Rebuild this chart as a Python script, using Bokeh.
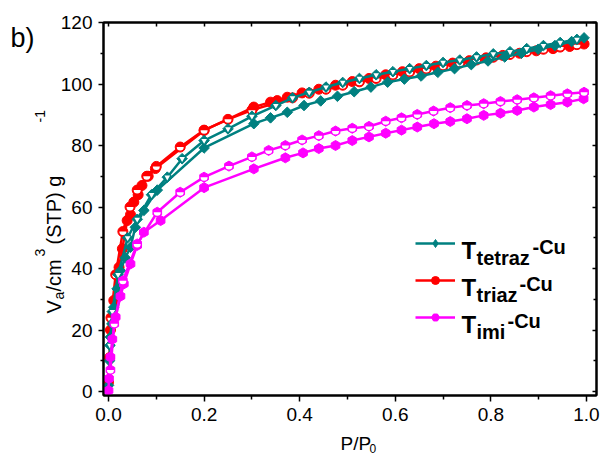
from math import pi
from bokeh.plotting import figure
from bokeh.models import (Range1d, LinearAxis, Legend, LegendItem,
                          FixedTicker, PrintfTickFormatter, CustomJSTickFormatter)
from bokeh.core.properties import value
from bokeh.embed import file_html
from bokeh.resources import INLINE

# ---------------- data ----------------
x_major = [0.0, 0.2, 0.4, 0.6, 0.8, 1.0]
x_minor = [0.1, 0.3, 0.5, 0.7, 0.9]
y_major = [0, 20, 40, 60, 80, 100, 120]
y_minor = [10, 30, 50, 70, 90, 110]

tetraz_ads_p = [0.0, 0.002, 0.004, 0.007, 0.011, 0.018, 0.025, 0.035, 0.046, 0.056, 0.074, 0.102,
                0.2, 0.304, 0.339, 0.374, 0.409, 0.444, 0.479, 0.514, 0.549, 0.584, 0.619, 0.654,
                0.689, 0.724, 0.759, 0.794, 0.829, 0.864, 0.899, 0.934, 0.969, 0.995]
tetraz_ads_v = [2, 10, 17.7, 22, 27.4, 33.4, 39.3, 43.5, 46.9, 53.4, 58.9, 65.5,
                79.2, 87.1, 89.0, 90.8, 93.0, 94.5, 96.0, 97.5, 99.0, 100.6, 101.6, 102.6,
                103.8, 105.0, 106.3, 107.5, 108.8, 110.0, 111.3, 112.5, 113.8, 115.0]
tetraz_des_p = [0.98, 0.945, 0.91, 0.875, 0.84, 0.805, 0.77, 0.735, 0.70, 0.665, 0.63, 0.595,
                0.56, 0.525, 0.49, 0.455, 0.42, 0.385, 0.35, 0.30, 0.25, 0.2, 0.154, 0.123,
                0.09, 0.06, 0.04, 0.02, 0.008, 0.003]
tetraz_des_v = [114.5, 113.5, 112.5, 111.5, 110.5, 109.8, 108.8, 107.8, 107.0, 106.0, 105.0, 104.0,
                103.0, 101.8, 100.5, 99.0, 97.3, 95.5, 93.0, 89.5, 85.4, 81.6, 75.7, 69.7,
                64.0, 56.0, 50.0, 38.0, 26.0, 15.0]

triaz_ads_p = [0.0, 0.002, 0.004, 0.011, 0.022, 0.029, 0.039, 0.046, 0.053, 0.062, 0.07, 0.083,
               0.098, 0.2, 0.304, 0.339, 0.353, 0.374, 0.405, 0.44, 0.475, 0.51, 0.545, 0.58,
               0.615, 0.65, 0.685, 0.72, 0.755, 0.79, 0.825, 0.86, 0.895, 0.93, 0.965, 0.995]
triaz_ads_v = [3, 11, 20, 29.6, 40.4, 46.4, 55.6, 57.5, 61.6, 64.0, 67.0, 70.0,
               72.5, 84.9, 92.5, 94.1, 94.6, 95.7, 97.1, 98.3, 99.6, 100.8, 101.8, 103.0,
               104.0, 105.0, 105.8, 106.8, 107.6, 108.5, 109.3, 110.0, 110.8, 111.5, 112.2, 113.0]
triaz_des_p = [0.98, 0.945, 0.91, 0.875, 0.84, 0.805, 0.77, 0.735, 0.70, 0.665, 0.63, 0.595,
               0.56, 0.525, 0.49, 0.455, 0.42, 0.385, 0.35, 0.30, 0.25, 0.2, 0.15, 0.1,
               0.08, 0.06, 0.045, 0.03, 0.015, 0.005]
triaz_des_v = [112.8, 112.0, 111.3, 110.5, 109.6, 108.7, 107.8, 106.8, 105.9, 104.9, 103.9, 102.9,
               101.8, 100.7, 99.6, 98.3, 97.0, 95.5, 93.8, 91.5, 88.5, 85.0, 79.5, 73.2,
               70.0, 65.5, 60.0, 52.0, 38.0, 24.0]

imi_ads_p = [0.0, 0.001, 0.004, 0.008, 0.015, 0.025, 0.032, 0.046, 0.06, 0.074, 0.109, 0.2,
             0.304, 0.37, 0.407, 0.44, 0.475, 0.51, 0.545, 0.58, 0.613, 0.646, 0.681, 0.715,
             0.75, 0.785, 0.82, 0.855, 0.89, 0.925, 0.96, 0.994]
imi_ads_v = [0.3, 4.2, 11.2, 17.0, 24.2, 31.0, 35.0, 41.5, 47.5, 51.8, 55.6, 66.3,
             72.4, 76.0, 77.6, 79.0, 80.0, 81.6, 82.8, 84.0, 85.0, 86.0, 87.1, 87.8,
             88.7, 89.8, 90.5, 91.4, 92.5, 93.3, 94.1, 95.2]
imi_des_p = [0.995, 0.96, 0.925, 0.89, 0.855, 0.82, 0.785, 0.75, 0.715, 0.68, 0.646, 0.613,
             0.58, 0.545, 0.51, 0.475, 0.44, 0.405, 0.37, 0.335, 0.30, 0.252, 0.2, 0.15,
             0.102, 0.06, 0.03, 0.012, 0.004]
imi_des_v = [97.3, 96.8, 96.2, 95.5, 94.9, 94.3, 93.6, 93.0, 92.3, 91.2, 90.1, 89.0,
             87.9, 86.2, 85.6, 84.7, 83.2, 81.8, 80.0, 78.4, 76.3, 73.3, 69.7, 64.8,
             58.3, 48.0, 36.0, 22.0, 7.0]

TEAL = "#008080"
RED = "#ff0000"
MAG = "#ff00ff"
FONT = "Liberation Sans"

# ---------------- figure ----------------
W, H = 609, 457
FL, FR, FT, FB = 103, 13, 22, 62
X0, X1, Y0, Y1 = -0.0105, 1.021, -1.3, 120.0
p = figure(width=W, height=H, output_backend="svg", toolbar_location=None,
           x_range=Range1d(X0, X1), y_range=Range1d(Y0, Y1),
           min_border_left=FL, min_border_right=FR, min_border_top=FT, min_border_bottom=FB,
           x_axis_location=None, y_axis_location=None)
p.grid.visible = False
p.outline_line_color = "black"
p.outline_line_width = 2
p.background_fill_color = "white"
p.border_fill_color = "white"

blank = CustomJSTickFormatter(code="return ''")


def style_axis(ax, out_major, out_minor, in_major, in_minor, labels=True):
    ax.axis_line_width = 2
    ax.axis_line_color = "black"
    ax.major_tick_line_width = 1.5
    ax.minor_tick_line_width = 1.5
    ax.major_tick_out = out_major
    ax.minor_tick_out = out_minor
    ax.major_tick_in = in_major
    ax.minor_tick_in = in_minor
    ax.major_label_text_font = FONT
    ax.major_label_text_color = "black"
    if labels:
        ax.major_label_text_font_size = "19px"
        ax.major_label_standoff = 6
    else:
        ax.major_label_standoff = 0


xb = LinearAxis(ticker=FixedTicker(ticks=x_major, minor_ticks=x_minor),
                formatter=PrintfTickFormatter(format="%.1f"))
style_axis(xb, 6, 4, 0, 0)
p.add_layout(xb, "below")

yl = LinearAxis(ticker=FixedTicker(ticks=y_major, minor_ticks=y_minor),
                formatter=PrintfTickFormatter(format="%d"))
style_axis(yl, 5, 3, 0, 0)
p.add_layout(yl, "left")

xt = LinearAxis(ticker=FixedTicker(ticks=x_major + x_minor, minor_ticks=[]), formatter=blank)
style_axis(xt, 0, 0, 4, 0, labels=False)
p.add_layout(xt, "above")

yr = LinearAxis(ticker=FixedTicker(ticks=y_major, minor_ticks=y_minor), formatter=blank)
style_axis(yr, 0, 0, 4, 3, labels=False)
p.add_layout(yr, "right")

LW = 2.5


def full_series(px, vy, color, marker, size, angle=0.0, key_marker=None):
    ln = p.line(px, vy, line_color=color, line_width=LW)
    key = None
    if key_marker is not None:
        # small key-shaped marker hidden under the data marker; used for the legend sample
        key = p.scatter(px, vy, marker=key_marker, size=size, fill_color=color,
                        line_color=color, line_width=1)
    sc = p.scatter(px, vy, marker=marker, size=size, angle=angle,
                   fill_color=color, line_color=color, line_width=1)
    return [ln, key if key is not None else sc]


def half_series(px, vy, color, marker, size, angle=0.0, tri=False):
    p.line(px, vy, line_color=color, line_width=LW)
    p.scatter(px, vy, marker=marker, size=size, angle=angle,
              fill_color=color, line_color=color, line_width=1)
    if tri:
        p.scatter(px, vy, marker="inverted_triangle", size=size * 0.75,
                  fill_color="white", line_color=None)
    else:
        p.wedge(px, vy, radius=size / 2 - 1.5, radius_units="screen",
                start_angle=pi, end_angle=2 * pi, fill_color="white", line_color=None)


# draw order: red, teal, magenta
r_key = full_series(triaz_ads_p, triaz_ads_v, RED, "circle", 10)
half_series(triaz_des_p, triaz_des_v, RED, "circle", 10)
t_key = full_series(tetraz_ads_p, tetraz_ads_v, TEAL, "square", 7.5, angle=pi / 4,
                    key_marker="diamond")
half_series(tetraz_des_p, tetraz_des_v, TEAL, "square", 7.5, angle=pi / 4, tri=True)
m_key = full_series(imi_ads_p, imi_ads_v, MAG, "hex", 10, angle=pi / 2)
half_series(imi_des_p, imi_des_v, MAG, "hex", 10, angle=pi / 2)

# ---------------- legend (sample glyphs only; texts added below) ----------------
leg = Legend(items=[LegendItem(label=" ", renderers=t_key),
                    LegendItem(label=" ", renderers=r_key),
                    LegendItem(label=" ", renderers=m_key)],
             location=(312, (H - FB) - 327), glyph_width=40, glyph_height=20, spacing=17,
             padding=0, margin=0, border_line_color=None, background_fill_alpha=0,
             label_text_font_size="8px", label_standoff=0, label_width=5)
p.add_layout(leg, "center")


# ---------------- texts: anchored at the frame's bottom-left corner, placed by pixel offsets ----------------
def lab(text, cx, cy, size, bold=False, angle=0.0):
    p.text(x=[X0], y=[Y0], text=[text], x_offset=cx - FL, y_offset=cy - (H - FB),
           angle=angle, text_font=value(FONT), text_font_size=value(size),
           text_font_style=value("bold" if bold else "normal"), text_color="black",
           text_align=value("left"), text_baseline=value("alphabetic"), level="overlay")


# legend texts
legend_subs = ["tetraz", "triaz", "imi"]
sub_widths = [55, 42, 30]
for i, sub in enumerate(legend_subs):
    dy = 37 * i
    lab("T", 461, 250 + dy, "24px", bold=True)
    lab(sub, 476, 257 + dy, "20px", bold=True)
    lab("-Cu", 477 + sub_widths[i], 246 + dy, "20px", bold=True)

# panel letter
lab("b)", 10, 37, "27px")

# x title
lab("P/P", 340, 443, "19px")
lab("0", 369, 448, "12px")

# y title (rotated, reading upward); cx = baseline position
lab("V", 53, 313, "20px", angle=pi / 2)
lab("a", 58, 299, "14px", angle=pi / 2)
lab("/cm", 53, 291, "20px", angle=pi / 2)
lab("3", 39, 256, "14px", angle=pi / 2)
lab("(STP) g", 53, 244, "20px", angle=pi / 2)
lab("-1", 39, 122, "14px", angle=pi / 2)

open("out.html", "w").write(file_html(p, INLINE))
